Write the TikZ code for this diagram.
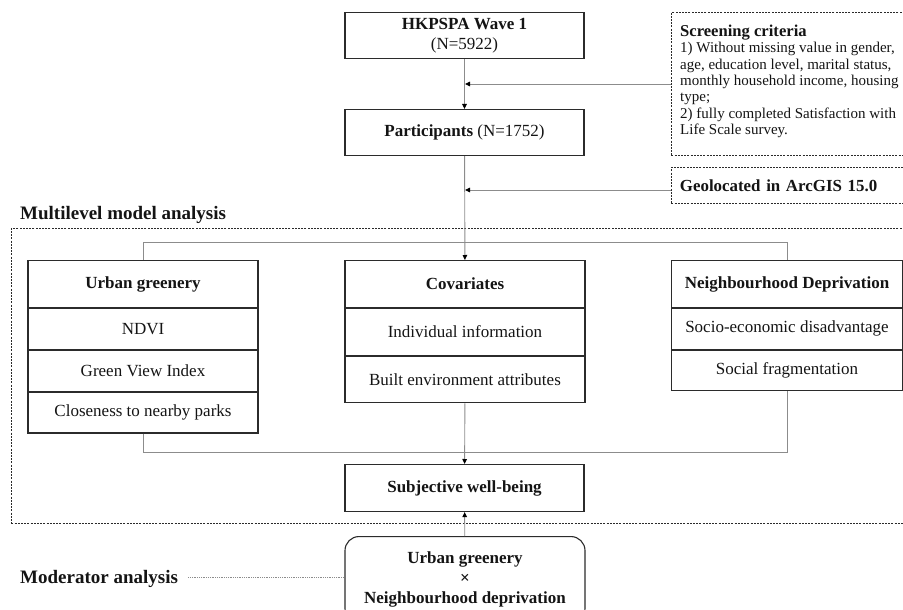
\documentclass[tikz,border=0pt]{standalone}
\usepackage{fontspec}
\setmainfont{Liberation Serif}
\usetikzlibrary{arrows.meta,positioning}
\definecolor{boxc}{HTML}{2B2B2B}
\definecolor{linec}{HTML}{8C8C8C}
\definecolor{txtc}{HTML}{141414}
\newcommand\tightlines{\lineskiplimit=-20pt\relax\lineskip=0pt\relax}
\tikzset{
  cell/.style={draw=boxc, line width=1.1pt, inner sep=0pt, align=center, text=txtc,
    font=\fontsize{17}{20}\selectfont},
  dashbox/.style={draw=boxc, line width=0.8pt, dash pattern=on 2pt off 1.2pt, inner sep=0pt},
  conn/.style={draw=linec, line width=0.9pt},
  arr/.style={conn, arrows={-{Triangle[length=5pt,width=4.5pt,color=black]}}},
  lbl/.style={text=txtc, inner sep=0pt, font=\fontsize{19}{22}\selectfont\bfseries}
}
\begin{document}
\begin{tikzpicture}[x=1pt,y=-1pt]
\useasboundingbox (0,0) rectangle (903,610);
% top boxes
\node[cell, minimum width=239pt, minimum height=46pt, anchor=north] (hk) at (464.5,12)
  {\baselineskip=21pt\textbf{HKPSPA Wave 1}\\(N=5922)};
\node[cell, minimum width=239pt, minimum height=46pt, anchor=north] (part) at (464.5,109)
  {\textbf{Participants} (N=1752)};
% screening
\node[dashbox, anchor=north west, minimum width=250pt, minimum height=143pt] (scr) at (671,12) {};
\node[anchor=north west, inner sep=0pt, align=left, text=txtc,
  font=\fontsize{15}{16.3}\selectfont\tightlines] (scrtxt) at (680,24.8)
  {{\fontsize{16.6}{15}\selectfont\bfseries Screening criteria}\\
   1) Without missing value in gender,\\
   age, education level, marital status,\\
   monthly household income, housing\\
   type;\\
   2) fully completed Satisfaction with\\
   Life Scale survey.};
\node[dashbox, anchor=north west, minimum width=250pt, minimum height=36pt, text width=236pt,
  inner xsep=8.5pt, align=left, text=txtc, font=\fontsize{16.9}{19}\selectfont\bfseries] (geo) at (671,167)
  {Geolocated in ArcGIS 15.0};
% multilevel frame
\node[lbl, anchor=west] (mllbl) at (20,214.5) {Multilevel model analysis};
\node[dashbox, anchor=north west, minimum width=904pt, minimum height=295pt] (ml) at (11,228) {};
% urban greenery
\node[cell, minimum width=230pt, minimum height=47pt, anchor=north] (ugh) at (143,260) {\bfseries Urban greenery};
\node[cell, minimum width=230pt, minimum height=40.7pt, anchor=north] (ug1) at (ugh.south) {NDVI};
\node[cell, minimum width=230pt, minimum height=40.7pt, anchor=north] (ug2) at (ug1.south) {Green View Index};
\node[cell, minimum width=230pt, minimum height=40.7pt, anchor=north] (ug3) at (ug2.south) {Closeness to nearby parks};
% covariates
\node[cell, minimum width=240pt, minimum height=47pt, anchor=north] (covh) at (465,260) {\bfseries Covariates};
\node[cell, minimum width=240pt, minimum height=46.5pt, anchor=north] (cov1) at (covh.south) {Individual information};
\node[cell, minimum width=240pt, minimum height=46.5pt, anchor=north] (cov2) at (cov1.south) {Built environment attributes};
% neighbourhood deprivation
\node[cell, minimum width=231pt, minimum height=47pt, anchor=north] (ndh) at (787,260) {\bfseries Neighbourhood Deprivation};
\node[cell, minimum width=231pt, minimum height=40.5pt, anchor=north] (nd1) at (ndh.south) {Socio-economic disadvantage};
\node[cell, minimum width=231pt, minimum height=40.5pt, anchor=north] (nd2) at (nd1.south) {Social fragmentation};
% outcome
\node[cell, minimum width=239pt, minimum height=47pt, anchor=north] (swb) at (464.5,464) {\bfseries Subjective well-being};
% moderator
\node[cell, rounded corners=14pt, minimum width=240pt, minimum height=86pt, anchor=north,
  font=\fontsize{17}{20}\selectfont\bfseries] (mod) at (465,536)
  {Urban greenery\\×\\Neighbourhood deprivation};
\node[lbl, anchor=west] (modlbl) at (20,579) {Moderator analysis};
% connectors
\coordinate (j1) at (465,84);
\coordinate (j2) at (465,190);
\draw[arr] (hk) -- (part);
\draw[arr] (scr.west |- j1) -- (j1);
\draw[arr] (part) -- (covh);
\draw[arr] (geo.west |- j2) -- (j2);
\draw[conn] (ugh.north) -- ++(0,-18) -| (ndh.north);
\draw[conn] (ug3.south) -- ++(0,19) -| (nd2.south);
\draw[arr] (cov2) -- (swb);
\draw[arr] (mod) -- (swb);
\draw[draw=linec, line width=0.8pt, dash pattern=on 1pt off 0.8pt] ([xshift=10pt]modlbl.east |- 0,577) -- (mod.west |- 0,577);
\end{tikzpicture}
\end{document}
